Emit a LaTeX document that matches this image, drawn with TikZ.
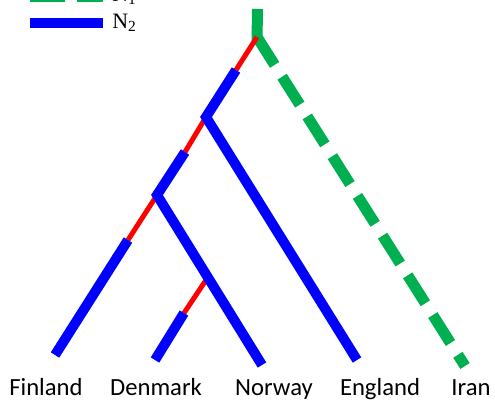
\documentclass[tikz,border=0pt]{standalone}
\usepackage{fontspec}
\setmainfont{Liberation Serif}
\newfontfamily\labfont{Carlito}
\definecolor{ngreen}{RGB}{0,176,80}
\begin{document}
\begin{tikzpicture}[x=0.75pt,y=-0.75pt,
  blueline/.style={draw=blue,line width=7.5pt,line join=miter,line cap=butt},
  redline/.style={draw=red,line width=3.75pt,line cap=butt},
  greenline/.style={draw=ngreen,line width=8.25pt,line cap=butt},
  greendash/.style={greenline,dash pattern=on 24.75pt off 10.5pt},
  leaf/.style={font=\labfont\fontsize{18.5}{20}\selectfont,anchor=base,inner sep=0pt},
  legtext/.style={font=\fontsize{16.5}{18}\selectfont,anchor=base west,inner sep=0pt}]
\useasboundingbox (0,0) rectangle (495,401);
\clip (0,0) rectangle (495,401);
% coordinates
\coordinate (top) at (257.5,9);
\coordinate (root) at (257,37);
\coordinate (r1) at (236,70);
\coordinate (A) at (206,117);
\coordinate (a1) at (185,152);
\coordinate (B) at (157,195);
\coordinate (b1) at (128,240);
\coordinate (Fin) at (55,355);
\coordinate (Nor) at (262,365);
\coordinate (Eng) at (357,360);
\coordinate (Ira) at (465,366);
\coordinate (Den) at (155,360);
\coordinate (d1) at (184,313);
\coordinate (d0) at (206,280);
% green
\draw[greenline] (top) -- ([yshift=-3]root);
\draw[greendash] (root) -- (Ira);
% red parts
\draw[redline] (root) -- (r1);
\draw[redline] (A) -- (a1);
\draw[redline] (B) -- (b1);
\draw[redline] (d0) -- (d1);
% blue parts
\draw[blueline] (r1) -- (A) -- (Eng);
\draw[blueline] (a1) -- (B) -- (Nor);
\draw[blueline] (b1) -- (Fin);
\draw[blueline] (d1) -- (Den);
% labels
\node[leaf] (lFin) at (46,395) {Finland};
\node[leaf] (lDen) at (156,395) {Denmark};
\node[leaf] (lNor) at (274,395) {Norway};
\node[leaf] (lEng) at (380,395) {England};
\node[leaf] (lIra) at (471,395) {Iran};
% legend
\coordinate (g1) at (30,-4);
\coordinate (g2) at (103,-4);
\draw[greenline,dash pattern=on 26.25pt off 9pt] (g1) -- (g2);
\coordinate (bl1) at (30,23);
\coordinate (bl2) at (103,23);
\draw[blueline] (bl1) -- (bl2);
\node[legtext] (n1) at (112,1) {N\textsubscript{1}};
\node[legtext] (n2) at (112,28) {N\textsubscript{2}};
\end{tikzpicture}
\end{document}
